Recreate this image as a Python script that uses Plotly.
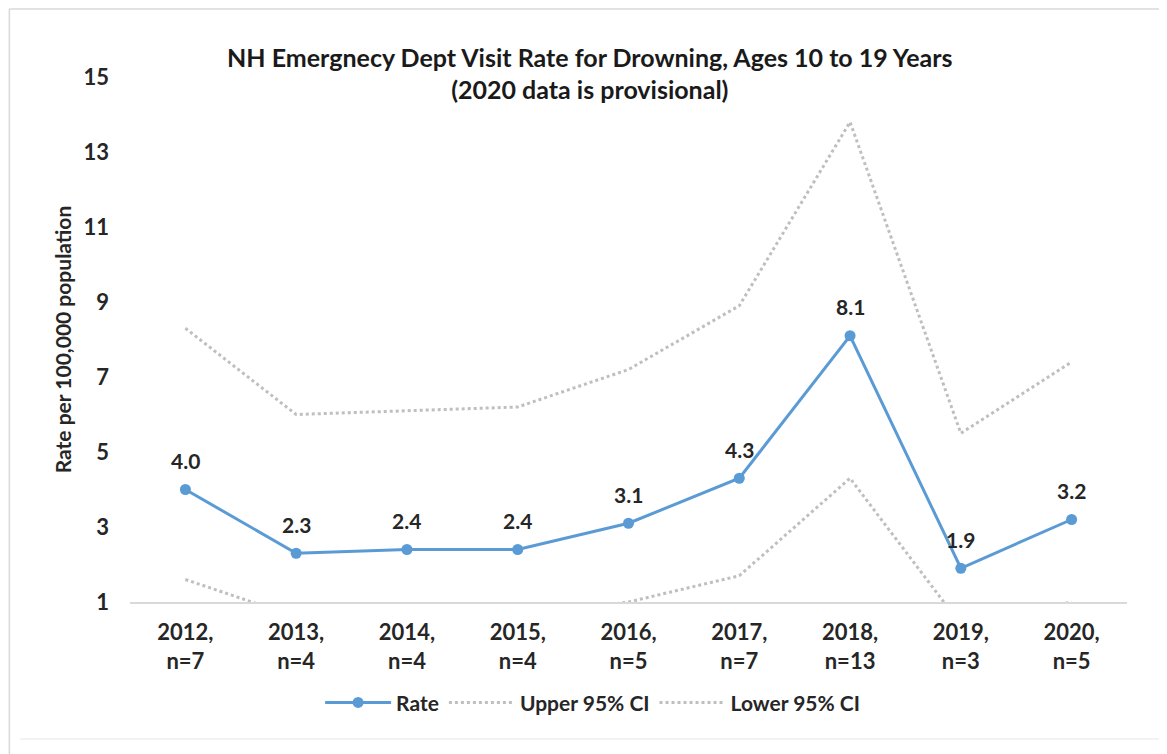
import plotly.graph_objects as go

categories = ["2012,<br>n=7", "2013,<br>n=4", "2014,<br>n=4", "2015,<br>n=4", "2016,<br>n=5",
              "2017,<br>n=7", "2018,<br>n=13", "2019,<br>n=3", "2020,<br>n=5"]
rate = [4.0, 2.3, 2.4, 2.4, 3.1, 4.3, 8.1, 1.9, 3.2]
upper_ci = [8.3, 6.0, 6.1, 6.2, 7.2, 8.9, 13.8, 5.5, 7.4]
lower_ci = [1.6, 0.6, 0.6, 0.6, 1.0, 1.7, 4.3, 0.4, 1.0]
rate_labels = [f"{v:.1f}" for v in rate]
y_ticks = [1, 3, 5, 7, 9, 11, 13, 15]

FONT = "Lato, 'Open Sans', Arial, sans-serif"
BLUE = "#5B9BD5"
GRAY = "#BFBFBF"
TXT = "#262626"

fig = go.Figure()
fig.add_trace(go.Scatter(
    x=categories, y=rate, name="<b>Rate</b>", mode="lines+markers",
    line=dict(color=BLUE, width=3), marker=dict(color=BLUE, size=11)))
fig.add_trace(go.Scatter(
    x=categories, y=upper_ci, name="<b>Upper 95% CI</b>", mode="lines",
    line=dict(color=GRAY, width=3, dash="dot")))
fig.add_trace(go.Scatter(
    x=categories, y=lower_ci, name="<b>Lower 95% CI</b>", mode="lines",
    line=dict(color=GRAY, width=3, dash="dot")))

for c, v, t in zip(categories, rate, rate_labels):
    fig.add_annotation(x=c, y=v, text=f"<b>{t}</b>", showarrow=False, yshift=29,
                       font=dict(size=21, color=TXT, family=FONT))

fig.update_layout(
    width=1159, height=746,
    margin=dict(l=122, r=40, t=69, b=152),
    paper_bgcolor="white", plot_bgcolor="white",
    font=dict(family=FONT, color=TXT, size=20),
    title=dict(text="<b>NH Emergnecy Dept Visit Rate for Drowning, Ages 10 to 19 Years<br>(2020 data is provisional)</b>",
               x=0.502, xanchor="center", y=0.921, yanchor="middle",
               font=dict(size=25, color="#1a1a1a", family=FONT)),
    showlegend=True,
    legend=dict(orientation="h", x=0.464, xanchor="center", y=-0.192, yanchor="middle",
                font=dict(size=21, color=TXT), itemwidth=66, traceorder="normal"),
    xaxis=dict(range=[-0.5, 8.5], showgrid=False, showline=True, linecolor="#D9D9D9", linewidth=1.5,
               ticks="", tickfont=dict(size=22, color=TXT), ticklabelstandoff=10, zeroline=False),
    yaxis=dict(range=[1, 15], tickvals=y_ticks, ticktext=[f"<b>{v}</b>" for v in y_ticks],
               showgrid=False, showline=False, zeroline=False, ticks="",
               tickfont=dict(size=22, color=TXT), ticklabelstandoff=20,
               title=dict(text="<b>Rate per 100,000 population</b>", font=dict(size=21, color=TXT), standoff=6)),
)
fig.update_xaxes(tickvals=categories, ticktext=[f"<b>{c}</b>" for c in categories])

# outer frame like the reference screenshot
fig.add_shape(type="line", xref="paper", yref="paper", x0=-0.121, x1=1.05, y0=1.1295, y1=1.1295,
              line=dict(color="#D9D9D9", width=1.5))
fig.add_shape(type="line", xref="paper", yref="paper", x0=-0.121, x1=-0.121, y0=1.1295, y1=-0.29,
              line=dict(color="#D9D9D9", width=1.5))
fig.add_shape(type="line", xref="paper", yref="paper", x0=-0.11, x1=1.033, y0=-0.261, y1=-0.261,
              line=dict(color="#E6E6E6", width=1))

fig.write_html("out.html")
